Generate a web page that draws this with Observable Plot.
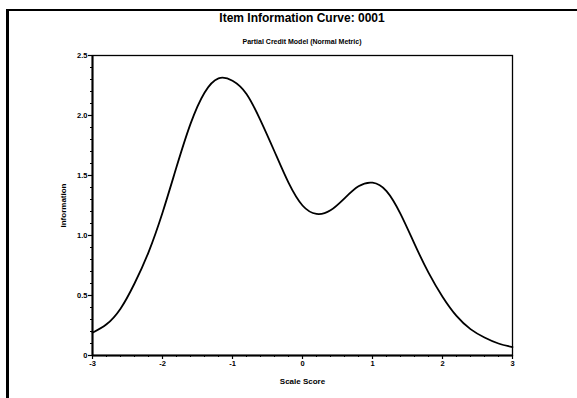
<!DOCTYPE html>
<html>
<head>
<meta charset="utf-8">
<script src="https://cdn.jsdelivr.net/npm/d3@7"></script>
<script src="https://cdn.jsdelivr.net/npm/@observablehq/plot@0.6"></script>
<style>
  html, body { margin: 0; padding: 0; background: #fff; }
  body { width: 577px; height: 398px; overflow: hidden; position: relative;
         font-family: "Liberation Sans", Arial, sans-serif; font-weight: bold; color: #000; }
  #frame { position: absolute; left: 6px; top: 9px; width: 580px; height: 400px; z-index: 10;
           border-left: 3px solid #000; border-top: 2px solid #000; pointer-events: none; }
  #title { position: absolute; left: 92px; width: 420px; top: 11px; text-align: center;
           font-size: 12px; line-height: 14px; }
  #subtitle { position: absolute; left: 92px; width: 420px; top: 37px; text-align: center;
              font-size: 7px; line-height: 9px; }
  #chart { position: absolute; left: 0; top: 48px; }
</style>
</head>
<body>
<div id="frame"></div>
<div id="title">Item Information Curve: 0001</div>
<div id="subtitle">Partial Credit Model (Normal Metric)</div>
<div id="chart"></div>
<script>
// Data
const scaleScore = [-3.0, -2.8, -2.6, -2.4, -2.2, -2.0, -1.8, -1.6, -1.4, -1.2, -1.0, -0.8, -0.6, -0.4, -0.2,
                    0.0, 0.2, 0.4, 0.6, 0.8, 1.0, 1.2, 1.4, 1.6, 1.8, 2.0, 2.2, 2.4, 2.6, 2.8, 3.0];
const information = [0.19, 0.26, 0.39, 0.60, 0.86, 1.19, 1.57, 1.93, 2.19, 2.31, 2.29, 2.18, 1.96, 1.70, 1.44,
                     1.25, 1.18, 1.21, 1.31, 1.41, 1.44, 1.37, 1.18, 0.93, 0.69, 0.49, 0.33, 0.22, 0.15, 0.10, 0.07];
const xTicks = [-3, -2, -1, 0, 1, 2, 3];
const yTicks = [0, 0.5, 1.0, 1.5, 2.0, 2.5];
const xMinor = [-2.8, -2.6, -2.4, -2.2, -1.8, -1.6, -1.4, -1.2, -0.8, -0.6, -0.4, -0.2,
                0.2, 0.4, 0.6, 0.8, 1.2, 1.4, 1.6, 1.8, 2.2, 2.4, 2.6, 2.8];
const yMinor = [0.1, 0.2, 0.3, 0.4, 0.6, 0.7, 0.8, 0.9, 1.1, 1.2, 1.3, 1.4, 1.6, 1.7, 1.8, 1.9, 2.1, 2.2, 2.3, 2.4];
const xLabel = "Scale Score";
const yLabel = "Information";

const data = scaleScore.map((x, i) => ({x, y: information[i]}));

const chart = Plot.plot({
  width: 577,
  height: 350,
  marginLeft: 92,
  marginRight: 65,
  marginTop: 7,
  marginBottom: 43,
  style: {fontFamily: '"Liberation Sans", Arial, sans-serif', fontWeight: "bold", fontSize: "7px", background: "#fff", color: "#000"},
  x: {domain: [-3, 3]},
  y: {domain: [0, 2.5]},
  marks: [
    Plot.axisX(xMinor, {tickSize: 2, tickFormat: () => "", label: null, strokeWidth: 1}),
    Plot.axisY(yMinor, {tickSize: 2, tickFormat: () => "", label: null, strokeWidth: 1}),
    Plot.axisX(xTicks, {tickSize: 4, tickPadding: 1, tickFormat: d => String(d), label: null, fontSize: 7.5, fontWeight: "bold", strokeWidth: 1.2}),
    Plot.axisY(yTicks, {tickSize: 4, tickPadding: 1, tickFormat: d => d === 0 ? "0" : d.toFixed(1), label: null, fontSize: 7.5, fontWeight: "bold", strokeWidth: 1.2}),
    Plot.frame({stroke: "#000", strokeWidth: 1.3}),
    Plot.ruleX([-3], {stroke: "#000", strokeWidth: 2}),
    Plot.ruleY([0], {stroke: "#000", strokeWidth: 2}),
    Plot.line(data, {x: "x", y: "y", stroke: "#000", strokeWidth: 1.8, curve: "natural"}),
    Plot.text([xLabel], {frameAnchor: "bottom", dy: 26, text: d => d, fontSize: 8, fontWeight: "bold", lineAnchor: "middle"}),
    Plot.text([yLabel], {frameAnchor: "left", dx: -29, rotate: -90, text: d => d, fontSize: 8, fontWeight: "bold", textAnchor: "middle", lineAnchor: "middle"})
  ]
});
document.getElementById("chart").appendChild(chart);
</script>
</body>
</html>
